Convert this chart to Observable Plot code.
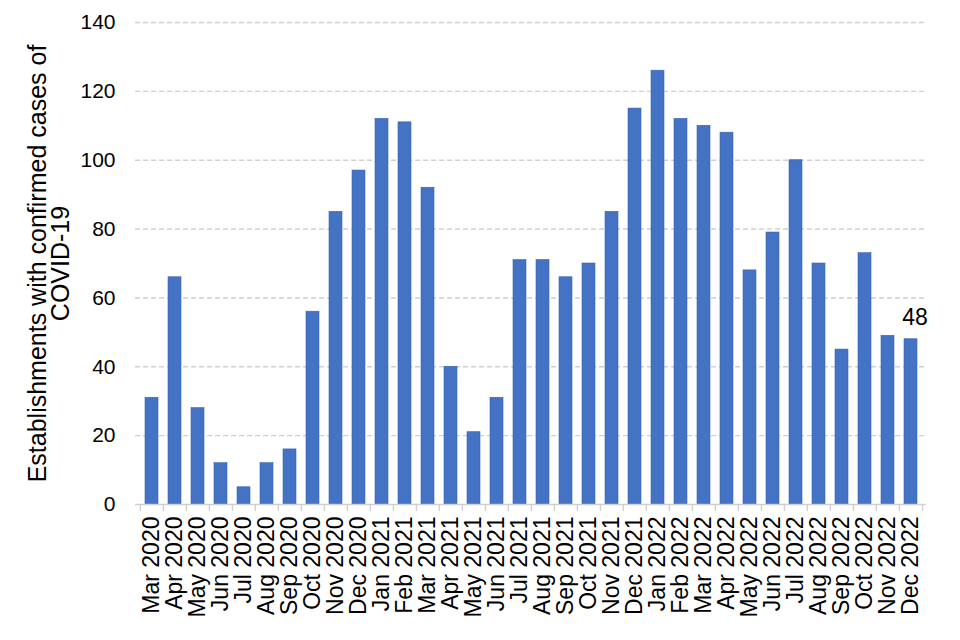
<!DOCTYPE html>
<html>
<head>
<meta charset="utf-8">
<script src="https://cdn.jsdelivr.net/npm/d3@7"></script>
<script src="https://cdn.jsdelivr.net/npm/@observablehq/plot@0.6"></script>
<style>
  html, body { margin: 0; padding: 0; background: #fff; }
  #chart { width: 960px; height: 640px; }
</style>
</head>
<body>
<div id="chart"></div>
<script>
const months = [
  "Mar 2020","Apr 2020","May 2020","Jun 2020","Jul 2020","Aug 2020","Sep 2020","Oct 2020","Nov 2020","Dec 2020",
  "Jan 2021","Feb 2021","Mar 2021","Apr 2021","May 2021","Jun 2021","Jul 2021","Aug 2021","Sep 2021","Oct 2021","Nov 2021","Dec 2021",
  "Jan 2022","Feb 2022","Mar 2022","Apr 2022","May 2022","Jun 2022","Jul 2022","Aug 2022","Sep 2022","Oct 2022","Nov 2022","Dec 2022"
];
const values = [
  31, 66, 28, 12, 5, 12, 16, 56, 85, 97,
  112, 111, 92, 40, 21, 31, 71, 71, 66, 70, 85, 115,
  126, 112, 110, 108, 68, 79, 100, 70, 45, 73, 49, 48
];
const yTicks = [0, 20, 40, 60, 80, 100, 120, 140];
const yTitle = "Establishments with confirmed cases of\nCOVID-19";
const lastLabel = "48";

const data = months.map((m, i) => ({month: m, value: values[i]}));

const W = 960, H = 640;
const mL = 135, mR = 34, mT = 22, mB = 136;
const step = (W - mL - mR) / months.length;
const font = "'Liberation Sans', Arial, sans-serif";

const chart = Plot.plot({
  width: W,
  height: H,
  marginLeft: mL,
  marginRight: mR,
  marginTop: mT,
  marginBottom: mB,
  style: {fontFamily: font, fontSize: "21px", background: "#fff", color: "#000"},
  x: {domain: months, paddingInner: 0.44, paddingOuter: 0.22, label: null},
  y: {domain: [0, 140], label: null},
  marks: [
    Plot.gridY(yTicks.filter(d => d > 0), {stroke: "#d0d0d0", strokeOpacity: 1, strokeWidth: 1.4, strokeDasharray: "5,3"}),
    Plot.barY(data, {x: "month", y: "value", fill: "#4472c4", stroke: "#3a64b4", strokeWidth: 0.6}),
    Plot.ruleY([0], {stroke: "#d0d0d0", strokeWidth: 1.4}),
    Plot.ruleX(months, {x: d => d, dx: -step / 2, y1: 0, y2: 0, insetBottom: -7, stroke: "#d0d0d0", strokeWidth: 1.4}),
    Plot.ruleX([months[months.length - 1]], {x: d => d, dx: step / 2, y1: 0, y2: 0, insetBottom: -7, stroke: "#d0d0d0", strokeWidth: 1.4}),
    Plot.axisY({ticks: yTicks, tickSize: 0, tickPadding: 20, fontSize: 21, label: null}),
    Plot.axisX({tickSize: 0, tickPadding: 12, tickRotate: -90, fontSize: 23, label: null}),
    Plot.text([data[data.length - 1]], {x: "month", y: "value", text: () => lastLabel, lineAnchor: "bottom", dy: -14, dx: 4, fontSize: 23, fill: "#000"}),
    Plot.text([yTitle], {frameAnchor: "left", textAnchor: "middle", rotate: -90, dx: -85, fontSize: 25, lineHeight: 0.92, fill: "#000"})
  ]
});

document.getElementById("chart").appendChild(chart);
</script>
</body>
</html>
